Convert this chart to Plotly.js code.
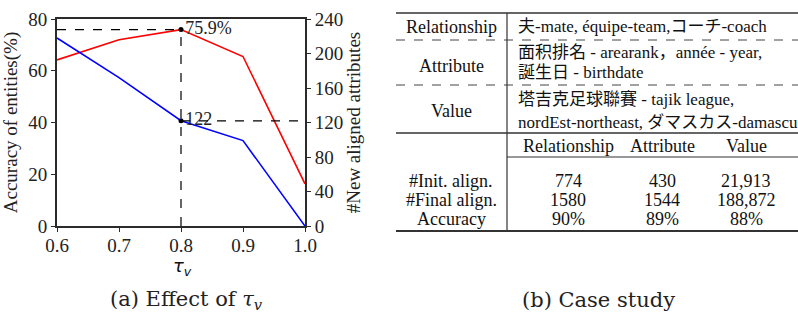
<!DOCTYPE html>
<html>
<head>
<meta charset="utf-8">
<script src="https://cdn.plot.ly/plotly-3.0.1.min.js"></script>
<style>html,body{margin:0;padding:0;background:#fff;}#chart{width:798px;height:314px;}</style>
</head>
<body>
<div id="chart"></div>
<script>
// ---- chart data ----
const tau = [0.6, 0.7, 0.8, 0.9, 1.0];
const accuracyEntities = [64.2, 72.0, 75.9, 65.5, 16.3];
const newAlignedAttrs = [218, 172, 122, 99, 0];
const highlightIndex = 2;
const xTicks = [0.6, 0.7, 0.8, 0.9, 1.0];
const xTickText = ['0.6', '0.7', '0.8', '0.9', '1.0'];
const yLeftTicks = [0, 20, 40, 60, 80];
const yRightTicks = [0, 40, 80, 120, 160, 200, 240];

// ---- table data ----
const exampleLabels = ['Relationship', 'Attribute', 'Value'];
const exampleLines = [
  ['夫-mate, équipe-team,コーチ-coach'],
  ['面积排名 - arearank，année - year,', '誕生日 - birthdate'],
  ['塔吉克足球聯賽 - tajik league,', 'nordEst-northeast, ダマスカス-damascus']
];
const statColumns = ['Relationship', 'Attribute', 'Value'];
const statRows = ['#Init. align.', '#Final align.', 'Accuracy'];
const statValues = [
  ['774', '430', '21,913'],
  ['1580', '1544', '188,872'],
  ['90%', '89%', '88%']
];
const captionA = '(a) Effect of <i>τ</i><sub><i>v</i></sub>';
const captionB = '(b) Case study';

// ---- pixel geometry -> paper ----
const W = 798, H = 314;
const L = 57, R = 305, T = 19, B = 226;
const pw = R - L, ph = B - T;
const px = x => (x - L) / pw;
const py = y => (B - y) / ph;

const serif = '"Liberation Serif", "Times New Roman", serif';
const tableFont = '"Liberation Serif", "Noto Sans CJK JP", serif';
const captionFont = '"DejaVu Serif", "Liberation Serif", serif';
const axisColor = '#2b2b2b';

const traces = [
  {x: tau, y: accuracyEntities, mode: 'lines', line: {color: '#ff0000', width: 1.6}, yaxis: 'y', hoverinfo: 'skip'},
  {x: tau, y: newAlignedAttrs, mode: 'lines', line: {color: '#0000ff', width: 1.6}, yaxis: 'y2', hoverinfo: 'skip'},
  {x: [tau[highlightIndex]], y: [accuracyEntities[highlightIndex]], mode: 'markers+text',
   marker: {color: '#000', size: 5}, text: [accuracyEntities[highlightIndex].toFixed(1) + '%'],
   textposition: 'middle right', textfont: {family: serif, size: 18, color: '#222'}, yaxis: 'y', cliponaxis: false},
  {x: [tau[highlightIndex]], y: [newAlignedAttrs[highlightIndex]], mode: 'markers+text',
   marker: {color: '#000', size: 5}, text: [String(newAlignedAttrs[highlightIndex])],
   textposition: 'middle right', textfont: {family: serif, size: 18, color: '#222'}, yaxis: 'y2', cliponaxis: false}
];

const shapes = [
  {type: 'line', xref: 'x', yref: 'y', x0: tau[0], x1: tau[highlightIndex], y0: accuracyEntities[highlightIndex], y1: accuracyEntities[highlightIndex], line: {color: '#000', width: 1.2, dash: 'dash'}},
  {type: 'line', xref: 'x', yref: 'y', x0: tau[highlightIndex], x1: tau[highlightIndex], y0: 0, y1: accuracyEntities[highlightIndex], line: {color: '#000', width: 1.2, dash: 'dash'}},
  {type: 'line', xref: 'x', yref: 'y2', x0: tau[highlightIndex], x1: tau[tau.length - 1], y0: newAlignedAttrs[highlightIndex], y1: newAlignedAttrs[highlightIndex], line: {color: '#000', width: 1.2, dash: 'dash'}}
];

const annotations = [];
function txt(text, xPix, yPix, opts) {
  opts = opts || {};
  annotations.push({
    xref: 'paper', yref: 'paper', x: px(xPix), y: py(yPix), text: text,
    showarrow: false, xanchor: opts.xanchor || 'center', yanchor: 'middle',
    font: {family: opts.family || tableFont, size: opts.size || 18, color: opts.color || '#111'}
  });
}
function hline(x0, x1, yPix, width, dash, color) {
  shapes.push({type: 'line', xref: 'paper', yref: 'paper', x0: px(x0), x1: px(x1), y0: py(yPix), y1: py(yPix),
    line: {color: color || '#333', width: width, dash: dash || 'solid'}});
}

// table geometry
const tLeft = 396, tRight = 810, tSep = 507;
const labelX = 451, textX = 516;
hline(tLeft, tRight, 13, 1.6);
hline(tLeft, tRight, 40, 1, 'dash', '#444');
hline(tLeft, tRight, 85, 1, 'dash', '#444');
hline(tLeft, tRight, 133, 1.6);
hline(tSep, tRight, 157, 1);
hline(tLeft, tRight, 231, 1.8);
shapes.push({type: 'line', xref: 'paper', yref: 'paper', x0: px(tSep), x1: px(tSep), y0: py(13), y1: py(231), line: {color: '#333', width: 1.2}});

const exampleLabelY = [27, 66, 111];
const exampleLineY = [[27], [53, 72], [99, 122]];
exampleLabels.forEach((lab, i) => {
  txt(lab, labelX, exampleLabelY[i]);
  exampleLines[i].forEach((ln, j) => txt(ln, textX, exampleLineY[i][j], {xanchor: 'left', size: 17}));
});
const colX = [568, 662, 746];
statColumns.forEach((c, j) => txt(c, colX[j], 146));
const rowY = [181, 200, 219];
statRows.forEach((r, i) => {
  txt(r, labelX, rowY[i]);
  statValues[i].forEach((v, j) => txt(v, colX[j], rowY[i]));
});

// captions & axis labels
txt(captionA, 186, 300, {family: captionFont, size: 21, color: '#222'});
txt(captionB, 598, 300, {family: captionFont, size: 21, color: '#222'});
txt('<i>τ</i><sub><i>v</i></sub>', 182, 267, {family: '"DejaVu Sans", sans-serif', size: 18, color: '#111'});

const layout = {
  width: W, height: H,
  margin: {l: L, r: W - R, t: T, b: H - B, pad: 0},
  paper_bgcolor: '#fff', plot_bgcolor: '#fff',
  showlegend: false,
  xaxis: {range: [0.6, 1.0], tickvals: xTicks, ticktext: xTickText, showgrid: false, zeroline: false,
    showline: true, linecolor: axisColor, linewidth: 2, mirror: true, ticks: 'outside', ticklen: 4,
    ticklabelstandoff: -3,
    tickcolor: axisColor, tickfont: {family: serif, size: 19, color: '#222'}},
  yaxis: {range: [0, 80], tickvals: yLeftTicks, showgrid: false, zeroline: false, showline: true,
    linecolor: axisColor, linewidth: 2, ticks: 'outside', ticklen: 4, tickcolor: axisColor,
    tickfont: {family: serif, size: 19, color: '#222'},
    title: {text: 'Accuracy of entities(%)', font: {family: serif, size: 19, color: '#222'}, standoff: 8}},
  yaxis2: {range: [0, 240], tickvals: yRightTicks, overlaying: 'y', side: 'right', showgrid: false,
    zeroline: false, showline: true, linecolor: axisColor, linewidth: 2, ticks: 'outside', ticklen: 4,
    tickcolor: axisColor, tickfont: {family: serif, size: 19, color: '#222'},
    title: {text: '#New aligned attributes', font: {family: serif, size: 19, color: '#222'}, standoff: 4}},
  shapes: shapes,
  annotations: annotations
};

Plotly.newPlot('chart', traces, layout, {staticPlot: true, displayModeBar: false});
</script>
</body>
</html>
